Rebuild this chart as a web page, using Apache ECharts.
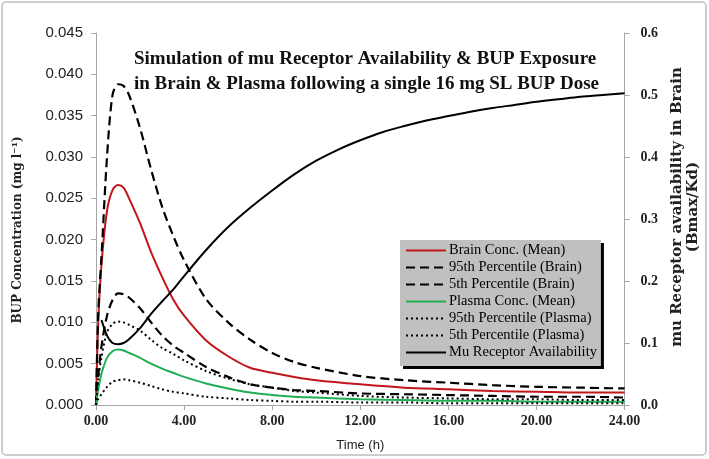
<!DOCTYPE html>
<html>
<head>
<meta charset="utf-8">
<script src="https://cdn.jsdelivr.net/npm/echarts@6/dist/echarts.min.js"></script>
<style>html,body{margin:0;padding:0;background:#fff;}#c{width:709px;height:459px;}</style>
</head>
<body>
<div id="c"></div>
<script>
// time points (h) for concentration curves
var tConc = [0, 0.1, 0.25, 0.5, 0.75, 1.0, 1.25, 1.5, 2, 2.5, 3, 3.5, 4, 5, 6, 7, 8, 9, 10, 12, 14, 16, 18, 20, 22, 24];
var brainMean = [0, 0.0099, 0.0170, 0.0235, 0.0260, 0.0266, 0.0263, 0.0250, 0.0220, 0.0185, 0.0155, 0.0128, 0.0108, 0.0078, 0.0059, 0.0045, 0.0039, 0.0034, 0.0030, 0.0025, 0.0021, 0.0019, 0.0017, 0.0016, 0.0015, 0.0015];
var brain95 = [0, 0.0110, 0.0180, 0.0300, 0.0375, 0.0388, 0.0386, 0.0375, 0.0335, 0.0285, 0.0240, 0.0205, 0.0175, 0.0128, 0.0100, 0.0079, 0.0063, 0.0052, 0.0045, 0.0035, 0.0030, 0.0027, 0.0024, 0.0022, 0.0021, 0.0020];
var brain5 = [0, 0.0035, 0.0071, 0.0108, 0.0127, 0.0135, 0.0134, 0.0130, 0.0117, 0.0100, 0.0084, 0.0072, 0.0063, 0.0046, 0.0034, 0.0025, 0.0021, 0.0018, 0.0017, 0.0014, 0.0013, 0.0012, 0.0011, 0.0010, 0.0010, 0.0009];
var plasmaMean = [0, 0.0018, 0.0038, 0.0057, 0.0065, 0.0067, 0.0066, 0.0063, 0.0057, 0.0050, 0.0044, 0.0039, 0.0034, 0.0026, 0.0020, 0.0015, 0.0012, 0.0010, 0.0009, 0.0007, 0.0006, 0.0005, 0.0005, 0.0004, 0.0004, 0.0004];
var plasma95 = [0, 0.0030, 0.0058, 0.0088, 0.0098, 0.0101, 0.0100, 0.0097, 0.0090, 0.0079, 0.0069, 0.0062, 0.0054, 0.0041, 0.0032, 0.0025, 0.0021, 0.0017, 0.0015, 0.0011, 0.0009, 0.0008, 0.0007, 0.0007, 0.0006, 0.0006];
var plasma5 = [0, 0.0007, 0.0013, 0.0022, 0.0028, 0.0030, 0.0031, 0.0030, 0.0027, 0.0023, 0.0019, 0.0016, 0.0014, 0.0010, 0.0008, 0.0006, 0.0005, 0.0004, 0.0004, 0.0003, 0.0003, 0.0002, 0.0002, 0.0002, 0.0002, 0.0002];
// receptor availability (right axis)
var tMu = [0.25, 0.5, 0.75, 1.0, 1.25, 1.5, 2, 2.5, 3, 3.5, 4, 5, 6, 7, 8, 9, 10, 11, 12, 13, 14, 15, 16, 17, 18, 19, 20, 21, 22, 23, 24];
var muAvail = [0.137, 0.112, 0.100, 0.098, 0.100, 0.106, 0.124, 0.147, 0.167, 0.186, 0.208, 0.250, 0.287, 0.318, 0.346, 0.372, 0.394, 0.412, 0.427, 0.440, 0.450, 0.459, 0.466, 0.473, 0.479, 0.484, 0.489, 0.493, 0.497, 0.500, 0.503];

var seriesNames = ['Brain Conc. (Mean)', '95th Percentile (Brain)', '5th Percentile (Brain)', 'Plasma Conc. (Mean)', '95th Percentile (Plasma)', '5th Percentile (Plasma)', 'Mu Receptor Availability'];

function pairs(t, v) { return t.map(function (x, i) { return [x, v[i]]; }); }

var serifF = 'Liberation Serif';
var axisGray = '#a6a6a6';

function mk(name, t, v, color, type, width, yIdx) {
  return {
    name: name, type: 'line', data: pairs(t, v), yAxisIndex: yIdx || 0,
    symbol: 'none', smooth: 0.3, silent: true,
    lineStyle: { color: color, width: width, type: type },
    itemStyle: { color: color }
  };
}

var chart = echarts.init(document.getElementById('c'));
chart.setOption({
  animation: false,
  backgroundColor: '#fff',
  title: {
    text: 'Simulation of mu Receptor Availability & BUP Exposure\nin Brain & Plasma following a single 16 mg SL BUP Dose',
    left: 129, top: 42,
    textStyle: { fontFamily: serifF, fontWeight: 'bold', fontSize: 19, lineHeight: 25, color: '#111' }
  },
  graphic: [{
    type: 'rect', shape: { x: 2, y: 2, width: 704, height: 453, r: 4 },
    style: { fill: 'none', stroke: '#bdbdbd', lineWidth: 1.5 }, silent: true
  }],
  legend: {
    orient: 'vertical', left: 400, top: 240,
    data: seriesNames,
    backgroundColor: '#c0c0c0',
    shadowColor: '#000', shadowBlur: 0, shadowOffsetX: 3, shadowOffsetY: 3,
    padding: [3, 4, 6, 5],
    itemWidth: 40, itemHeight: 12, itemGap: 2,
    itemStyle: { color: 'rgba(0,0,0,0)', borderWidth: 0, opacity: 0 },
    textStyle: { fontFamily: serifF, fontSize: 14.5, lineHeight: 13.5, color: '#000', padding: [0, 0, 0, -2] },
    selectedMode: false
  },
  grid: { left: 96, right: 80, top: 33, bottom: 54 },
  xAxis: {
    type: 'value', min: 0, max: 24, interval: 4,
    name: 'Time (h)', nameLocation: 'middle', nameGap: 34,
    nameTextStyle: { fontFamily: 'Liberation Sans', fontSize: 13, color: '#222' },
    axisLine: { lineStyle: { color: axisGray } },
    axisTick: { lineStyle: { color: axisGray }, length: 5 },
    splitLine: { show: false },
    axisLabel: { formatter: function (v) { return v.toFixed(2); }, fontFamily: serifF, fontWeight: 'bold', fontSize: 14, color: '#222', margin: 9 }
  },
  yAxis: [{
    type: 'value', min: 0, max: 0.045, interval: 0.005,
    name: 'BUP Concentration (mg l\u207B\u00B9)', nameLocation: 'middle', nameRotate: 90, nameGap: 72,
    nameTextStyle: { fontFamily: 'DejaVu Serif', fontWeight: 'bold', fontSize: 12, color: '#222', padding: [0, 22, 0, 0] },
    axisLine: { show: true, lineStyle: { color: axisGray } },
    axisTick: { show: true, lineStyle: { color: axisGray }, length: 5 },
    splitLine: { show: false },
    axisLabel: { formatter: function (v) { return v.toFixed(3); }, fontFamily: 'Liberation Sans', fontSize: 15, color: '#222', margin: 13 }
  }, {
    type: 'value', min: 0, max: 0.6, interval: 0.1, position: 'right',
    name: 'mu Receptor availability in Brain\n(Bmax/Kd)', nameLocation: 'middle', nameRotate: 90, nameGap: 43,
    nameTextStyle: { fontFamily: 'DejaVu Serif', fontWeight: 'bold', fontSize: 15, lineHeight: 16, color: '#222', padding: [0, 0, 0, 24] },
    axisLine: { show: true, lineStyle: { color: axisGray } },
    axisTick: { show: true, lineStyle: { color: axisGray }, length: 5 },
    splitLine: { show: false },
    axisLabel: { formatter: function (v) { return v.toFixed(1); }, fontFamily: serifF, fontWeight: 'bold', fontSize: 14, color: '#222', margin: 16 }
  }],
  series: [
    mk(seriesNames[0], tConc, brainMean, '#c0161c', 'solid', 2),
    mk(seriesNames[1], tConc, brain95, '#000', [9, 5], 2.2),
    mk(seriesNames[2], tConc, brain5, '#000', [9, 5], 2.2),
    mk(seriesNames[3], tConc, plasmaMean, '#1fae52', 'solid', 2),
    mk(seriesNames[4], tConc, plasma95, '#000', [2, 3], 2),
    mk(seriesNames[5], tConc, plasma5, '#000', [2, 3], 2),
    mk(seriesNames[6], tMu, muAvail, '#000', 'solid', 2, 1)
  ]
});
</script>
</body>
</html>
